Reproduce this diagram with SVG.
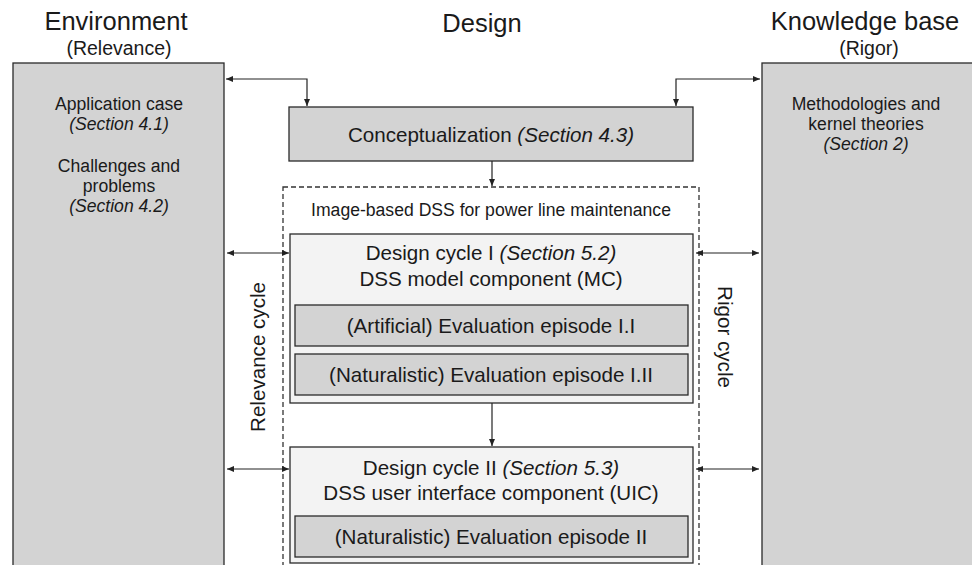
<svg xmlns="http://www.w3.org/2000/svg" width="972" height="565" viewBox="0 0 972 565">
<defs>
<marker id="ah" markerUnits="userSpaceOnUse" markerWidth="8" markerHeight="6" refX="7" refY="3" orient="auto-start-reverse">
<path d="M0,0 L7,3 L0,6 z" fill="#222"/>
</marker>
<style>
text{font-family:"Liberation Sans",Arial,sans-serif;fill:#1a1a1a;text-anchor:middle}
.t{font-size:25.5px}
.st{font-size:19.5px}
.b{font-size:17.6px}
.m{font-size:20.6px}
.it{font-style:italic}
.gray{fill:#d3d3d3;stroke:#2a2a2a;stroke-width:1.3}
.light{fill:#f3f3f3;stroke:#2a2a2a;stroke-width:1.3}
.dash{fill:none;stroke:#333;stroke-width:1.3;stroke-dasharray:5,3}
.c{fill:none;stroke:#222;stroke-width:1.2}
</style>
</defs>
<rect width="972" height="565" fill="#fff"/>

<g id="titles">
<text class="t" x="116" y="30">Environment</text>
<text class="st" x="119" y="55">(Relevance)</text>
<text class="t" x="482" y="32">Design</text>
<text class="t" x="865" y="30">Knowledge base</text>
<text class="st" x="869" y="55">(Rigor)</text>
</g>

<g id="environment">
<rect class="gray" x="13" y="63" width="211" height="510"/>
<text class="b" x="119" y="110">Application case</text>
<text class="b it" x="119" y="130">(Section 4.1)</text>
<text class="b" x="119" y="172">Challenges and</text>
<text class="b" x="119" y="192">problems</text>
<text class="b it" x="119" y="212">(Section 4.2)</text>
</g>

<g id="knowledge">
<rect class="gray" x="762" y="63" width="215" height="510"/>
<text class="b" x="866" y="110">Methodologies and</text>
<text class="b" x="866" y="130">kernel theories</text>
<text class="b it" x="866" y="150">(Section 2)</text>
</g>

<g id="conceptualization">
<rect class="gray" x="289" y="107" width="404" height="54"/>
<text class="m" x="491" y="142">Conceptualization <tspan class="it">(Section 4.3)</tspan></text>
</g>

<g id="dss">
<rect class="dash" x="283" y="187" width="416" height="390"/>
<text class="b" x="491" y="216">Image-based DSS for power line maintenance</text>
</g>

<g id="cycle1">
<rect class="light" x="290" y="234" width="403" height="169"/>
<text class="m" x="491" y="260">Design cycle I <tspan class="it">(Section 5.2)</tspan></text>
<text class="m" x="491" y="286">DSS model component (MC)</text>
</g>
<g id="episode11">
<rect class="gray" x="295" y="305" width="393" height="41"/>
<text class="m" x="491" y="333">(Artificial) Evaluation episode I.I</text>
</g>
<g id="episode12">
<rect class="gray" x="295" y="354" width="393" height="41"/>
<text class="m" x="491" y="382">(Naturalistic) Evaluation episode I.II</text>
</g>

<g id="cycle2">
<rect class="light" x="290" y="447" width="403" height="116"/>
<text class="m" x="491" y="475">Design cycle II <tspan class="it">(Section 5.3)</tspan></text>
<text class="m" x="491" y="500">DSS user interface component (UIC)</text>
</g>
<g id="episode2">
<rect class="gray" x="295" y="516" width="393" height="41"/>
<text class="m" x="491" y="544">(Naturalistic) Evaluation episode II</text>
</g>

<g id="cycle-labels">
<text class="m" transform="translate(265,357) rotate(-90)">Relevance cycle</text>
<text class="m" transform="translate(718,337) rotate(90)">Rigor cycle</text>
</g>

<g id="connectors">
<path class="c" d="M307,106 V79 H226" marker-start="url(#ah)" marker-end="url(#ah)"/>
<path class="c" d="M676,106 V79 H760" marker-start="url(#ah)" marker-end="url(#ah)"/>
<path class="c" d="M492,161 V186" marker-end="url(#ah)"/>
<path class="c" d="M492,403 V446" marker-end="url(#ah)"/>
<path class="c" d="M227,253 H289" marker-start="url(#ah)" marker-end="url(#ah)"/>
<path class="c" d="M696,253 H759" marker-start="url(#ah)" marker-end="url(#ah)"/>
<path class="c" d="M227,469 H289" marker-start="url(#ah)" marker-end="url(#ah)"/>
<path class="c" d="M696,469 H759" marker-start="url(#ah)" marker-end="url(#ah)"/>
</g>
</svg>
